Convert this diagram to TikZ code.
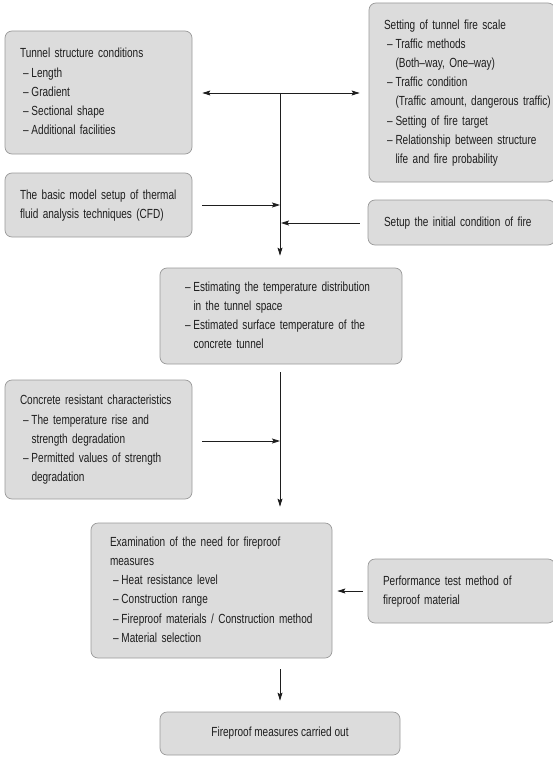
\documentclass[tikz,border=0pt]{standalone}
\usepackage{fontspec}
\setmainfont{Liberation Sans}[FakeStretch=0.76]
\usetikzlibrary{arrows.meta}
\definecolor{boxfill}{HTML}{DCDCDC}
\definecolor{boxline}{HTML}{9A9A9A}
\definecolor{ink}{HTML}{1E1E1E}
\newcommand\itm[1]{\hspace*{3pt}\makebox[8.5pt][l]{–}#1}
\newcommand\cnt[1]{\hspace*{11.5pt}#1}
\newcommand\boxfont{\fontsize{13.2}{19.2}\selectfont}
\newcommand\lines[1]{\begin{tabular}{@{}l@{}}#1\end{tabular}}
\begin{document}
\begin{tikzpicture}[x=1pt,y=-1pt,
  box/.style={draw=boxline, fill=boxfill, rounded corners=7pt, line width=0.7pt,
    inner sep=0pt, align=left, font=\boxfont, text=ink},
  arr/.style={draw=ink, line width=0.8pt, -{Stealth[length=8pt,width=5pt,inset=1.5pt]}}]
\useasboundingbox (0,0) rectangle (552,757);

\node[box, minimum width=187pt, minimum height=123pt, text width=157pt] (tun) at (98.5,92.5)
  {\lines{Tunnel structure conditions\\ \itm{Length}\\ \itm{Gradient}\\ \itm{Sectional shape}\\ \itm{Additional facilities}}};
\node[box, minimum width=186pt, minimum height=179pt, text width=156pt] (set) at (462,92.5)
  {\lines{Setting of tunnel fire scale\\ \itm{Traffic methods}\\ \cnt{(Both–way, One–way)}\\ \itm{Traffic condition}\\ \cnt{(Traffic amount, dangerous traffic)}\\ \itm{Setting of fire target}\\ \itm{Relationship between structure}\\ \cnt{life and fire probability}}};
\node[box, minimum width=187pt, minimum height=64pt, text width=157pt] (cfd) at (98.5,205)
  {\lines{The basic model setup of thermal\\ fluid analysis techniques (CFD)}};
\node[box, minimum width=187pt, minimum height=45pt, text width=155pt] (setup) at (461.5,222.5)
  {\lines{Setup the initial condition of fire}};
\node[box, minimum width=242pt, minimum height=96pt, text width=198pt] (est) at (281,316)
  {\lines{\itm{Estimating the temperature distribution}\\ \cnt{in the tunnel space}\\ \itm{Estimated surface temperature of the}\\ \cnt{concrete tunnel}}};
\node[box, minimum width=187pt, minimum height=119pt, text width=157pt] (con) at (98.5,439.5)
  {\lines{Concrete resistant characteristics\\ \itm{The temperature rise and}\\ \cnt{strength degradation}\\ \itm{Permitted values of strength}\\ \cnt{degradation}}};
\node[box, minimum width=241pt, minimum height=135pt, text width=203pt] (exam) at (211.5,590.5)
  {\lines{Examination of the need for fireproof\\ measures\\ \itm{Heat resistance level}\\ \itm{Construction range}\\ \itm{Fireproof materials / Construction method}\\ \itm{Material selection}}};
\node[box, minimum width=187pt, minimum height=64pt, text width=157pt] (perf) at (461.5,591)
  {\lines{Performance test method of\\ fireproof material}};
\node[box, align=center, minimum width=240pt, minimum height=43pt] (fin) at (280,733.5)
  {Fireproof measures carried out};

\coordinate (jtop) at (280,93);
\coordinate (jcfd) at (280,205);
\coordinate (jsetup) at (280,223);
\coordinate (jcon) at (280,441);

\draw[arr, shorten >=10pt] (jtop) -- (tun.east |- jtop);
\draw[arr, shorten >=9pt] (jtop) -- (set.west |- jtop);
\draw[arr, shorten >=12pt] (jtop) -- (jtop |- est.north);
\draw[arr, shorten <=10pt] (cfd.east |- jcfd) -- (jcfd);
\draw[arr, shorten <=8pt, shorten >=1pt] (setup.west |- jsetup) -- (jsetup);
\draw[arr, shorten <=8pt, shorten >=16pt] (jtop |- est.south) -- (jtop |- exam.north);
\draw[arr, shorten <=10pt] (con.east |- jcon) -- (jcon);
\draw[arr, shorten <=5pt, shorten >=5pt] (perf.west) -- (exam.east |- perf.west);
\draw[arr, shorten <=11pt, shorten >=11pt] (jtop |- exam.south) -- (jtop |- fin.north);
\end{tikzpicture}
\end{document}
